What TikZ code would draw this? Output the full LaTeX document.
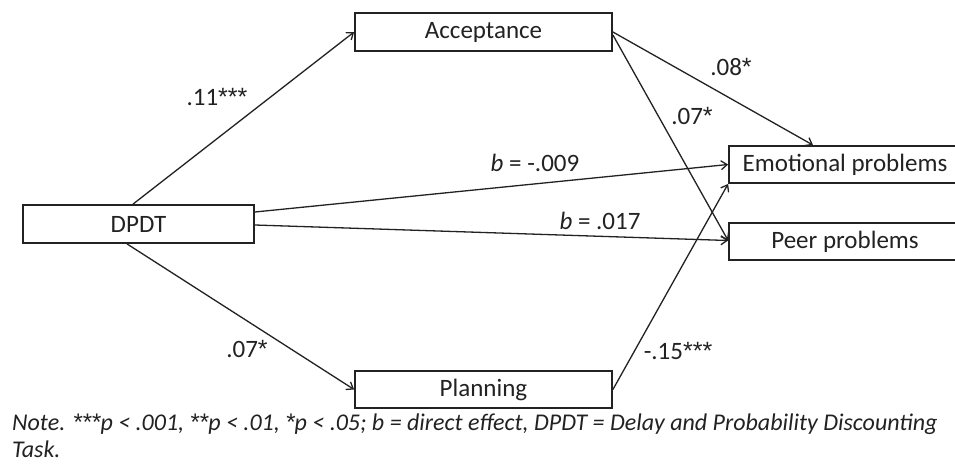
\documentclass[tikz,border=0pt]{standalone}
\usepackage{fontspec}
\setmainfont{Carlito}
\newfontfamily\starfont{Liberation Sans}
\newcommand{\sig}[1]{{\starfont #1}}
\usetikzlibrary{arrows.meta}
\definecolor{ink}{HTML}{222222}
\tikzset{
  varbox/.style={draw=ink, line width=1.8pt, fill=white, inner sep=0pt,
    font=\fontsize{25}{29}\selectfont, text=ink},
  path/.style={draw=ink, line width=1.3pt, -{Straight Barb[length=6pt,width=9pt,line width=1.3pt]}},
  coef/.style={font=\fontsize{25}{29}\selectfont, text=ink, inner sep=0pt},
}
\begin{document}
\begin{tikzpicture}[x=1pt,y=-1pt]
\useasboundingbox (0,0) rectangle (955,469);
\clip (0,0) rectangle (955,469);
\fill[white] (0,0) rectangle (955,469);

% variables
\node[varbox, minimum width=257pt, minimum height=38pt] (acc)  at (483.5,32)  {Acceptance};
\node[varbox, minimum width=231pt, minimum height=38pt] (dpdt) at (138.5,224) {DPDT};
\node[varbox, minimum width=257pt, minimum height=37pt] (plan) at (483.5,389.5) {Planning};
\node[varbox, minimum width=232pt, minimum height=37pt] (emo)  at (845,164.5) {Emotional problems};
\node[varbox, minimum width=232pt, minimum height=37pt] (peer) at (845,241.5) {Peer problems};

% paths
\draw[path] ([xshift=-5.5pt]dpdt.north) -- (acc.west);
\draw[path] ([xshift=-11.5pt]dpdt.south) -- (plan.west);
\draw[path] ([yshift=12pt]dpdt.east) -- (emo.west);
\draw[path] ([yshift=-1pt]dpdt.east) -- ([yshift=1pt]peer.west);
\draw[path] (acc.east) -- ([xshift=-32pt]emo.north);
\draw[path] ([yshift=-3pt]acc.east) -- ([yshift=1pt]peer.west);
\draw[path] (plan.east) -- (emo.south west);

% coefficients
\node[coef] (c1) at (217,97)  {.11\sig{***}};
\node[coef] (c2) at (731,67)  {.08\sig{*}};
\node[coef] (c3) at (692,116) {.07\sig{*}};
\node[coef] (c4) at (535,163) {\textit{b} = -.009};
\node[coef] (c5) at (600,221) {\textit{b} = .017};
\node[coef] (c6) at (247,349) {.07\sig{*}};
\node[coef] (c7) at (678,351) {-.15\sig{***}};

% note
\node[anchor=north west, inner sep=0pt, text=ink, align=left,
      font=\itshape\fontsize{24}{27}\selectfont] (note) at (12,414)
  {Note. \sig{***}p < .001, \sig{**}p < .01, \sig{*}p < .05; b = direct effect, DPDT = Delay and Probability Discounting\\Task.};
\end{tikzpicture}
\end{document}
